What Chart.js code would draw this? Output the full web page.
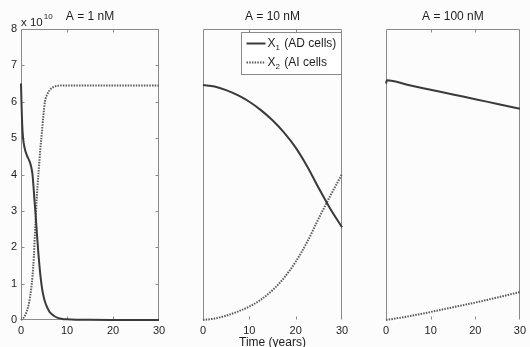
<!DOCTYPE html>
<html>
<head>
<meta charset="utf-8">
<script src="https://cdn.jsdelivr.net/npm/chart.js@4/dist/chart.umd.min.js"></script>
<style>
  html, body { margin: 0; padding: 0; background: #fcfcfc; }
  #wrap { position: relative; width: 530px; height: 347px; }
  #wrap canvas { position: absolute; left: 0; top: 0; }
</style>
</head>
<body>
<div id="wrap">
  <canvas id="p1" width="530" height="347"></canvas>
  <canvas id="p2" width="530" height="347"></canvas>
  <canvas id="p3" width="530" height="347"></canvas>
</div>
<script>
// Cell populations in units of 10^10 cells, time in years.

// A = 1 nM
const tLowAD = [0, 0.1, 0.25, 0.45, 0.8, 1.3, 1.8, 2.2, 2.5, 2.7, 2.9, 3.2, 3.5, 3.8, 4.2, 4.6, 5.0, 5.5, 6.0, 6.5, 7.2, 8, 9, 10, 12, 15, 20, 30];
const adLow  = [6.5, 6.0, 5.4, 5.0, 4.72, 4.52, 4.38, 4.22, 4.0, 3.7, 3.35, 2.85, 2.3, 1.8, 1.25, 0.85, 0.6, 0.4, 0.27, 0.18, 0.11, 0.06, 0.03, 0.02, 0.01, 0.005, 0.002, 0];
const tLowAI = [0, 0.5, 1.2, 1.8, 2.2, 2.5, 2.8, 3.0, 3.2, 3.4, 3.6, 3.9, 4.2, 4.5, 4.85, 5.2, 5.7, 6.3, 7, 8, 10, 15, 20, 30];
const aiLow  = [0, 0.05, 0.22, 0.5, 0.85, 1.2, 1.75, 2.3, 2.8, 3.3, 3.7, 4.2, 4.7, 5.1, 5.6, 6.0, 6.2, 6.33, 6.4, 6.44, 6.45, 6.45, 6.45, 6.45];

// A = 10 nM
const tMid  = [0, 2.5, 5, 7.5, 10, 12.5, 15, 17.5, 20, 22.5, 25, 27.5, 30];
const adMid = [6.46, 6.42, 6.32, 6.18, 6.0, 5.77, 5.49, 5.15, 4.74, 4.22, 3.62, 3.05, 2.55];
const aiMid = [0.0, 0.04, 0.12, 0.23, 0.37, 0.56, 0.82, 1.16, 1.6, 2.15, 2.8, 3.42, 4.01];

// A = 100 nM
const tHighAD = [0, 0.2, 5, 10, 15, 20, 25, 30];
const adHigh  = [6.5, 6.59, 6.46, 6.33, 6.2, 6.07, 5.94, 5.81];
const tHighAI = [0, 5, 10, 15, 20, 25, 30];
const aiHigh  = [0.0, 0.1, 0.22, 0.35, 0.48, 0.62, 0.77];

const xTicks = [0, 10, 20, 30];
const yTicks = [0, 1, 2, 3, 4, 5, 6, 7, 8];
const panelTitles = ['A = 1 nM', 'A = 10 nM', 'A = 100 nM'];
const seriesLabels = ['X\u2081 (AD cells)', 'X\u2082 (AI cells'];
const xAxisTitle = 'Time (years)';

const FONT = '"Liberation Sans", Arial, Helvetica, sans-serif';
const INK = '#1e1e1e';
const FRAME = '#8a8a8a';
const PLOT_TOP = 29, PLOT_BOTTOM = 320, CANVAS_W = 530, CANVAS_H = 347;

function points(ts, vs) {
  return ts.map((t, i) => ({ x: t, y: vs[i] }));
}
function adSeries(ts, vs) {
  return {
    label: seriesLabels[0], data: points(ts, vs),
    borderColor: '#3a3a3a', borderWidth: 2, pointRadius: 0,
    cubicInterpolationMode: 'monotone', borderJoinStyle: 'round', clip: 4
  };
}
function aiSeries(ts, vs) {
  return {
    label: seriesLabels[1], data: points(ts, vs),
    borderColor: '#5a5a5a', borderWidth: 2, borderDash: [1.5, 1.2], pointRadius: 0,
    cubicInterpolationMode: 'monotone', clip: 4
  };
}

// draw "X" with a subscript digit followed by the rest of the label
function drawSubLabel(ctx, label, x, y) {
  const subs = { '\u2081': '1', '\u2082': '2' };
  let cx = x;
  ctx.textBaseline = 'middle';
  ctx.textAlign = 'left';
  for (const ch of label) {
    if (subs[ch]) {
      ctx.font = '8px ' + FONT;
      ctx.fillText(subs[ch], cx, y + 4);
      cx += ctx.measureText(subs[ch]).width + 1;
    } else {
      ctx.font = '12px ' + FONT;
      ctx.fillText(ch, cx, y);
      cx += ctx.measureText(ch).width;
    }
  }
}

const frame = {
  id: 'frame',
  beforeDatasetsDraw(chart, args, o) {
    const { ctx, chartArea: a } = chart;
    const xs = chart.scales.x, ys = chart.scales.y;
    const L = Math.round(a.left) + 0.5, R = Math.round(a.right) - 0.5;
    const T = Math.round(a.top) + 0.5, B = Math.round(a.bottom) - 0.5;
    ctx.save();
    ctx.strokeStyle = FRAME;
    ctx.lineWidth = 1;
    ctx.beginPath();
    ctx.moveTo(L, B); ctx.lineTo(L, T); ctx.lineTo(R, T); ctx.lineTo(R, B);
    if (o.bottom) ctx.lineTo(L, B);
    ctx.stroke();
    ctx.beginPath();
    xTicks.slice(1, -1).forEach(v => {
      const px = Math.round(xs.getPixelForValue(v)) + 0.5;
      ctx.moveTo(px, T); ctx.lineTo(px, T + 3);
      ctx.moveTo(px, B); ctx.lineTo(px, B - 3);
    });
    if (o.yMarks) {
      yTicks.slice(1, -1).forEach(v => {
        const py = Math.round(ys.getPixelForValue(v)) + 0.5;
        ctx.moveTo(L, py); ctx.lineTo(L + 3, py);
        ctx.moveTo(R, py); ctx.lineTo(R - 3, py);
      });
    }
    ctx.stroke();
    ctx.restore();
  },
  afterDraw(chart, args, o) {
    const { ctx, chartArea: a } = chart;
    const cx = (a.left + a.right) / 2;
    ctx.save();
    ctx.fillStyle = INK;
    ctx.font = '12px ' + FONT;
    ctx.textAlign = 'center';
    ctx.textBaseline = 'middle';
    ctx.fillText(o.title, cx, a.top - 12);

    if (o.multiplier) {
      ctx.textAlign = 'left';
      ctx.font = '11.5px ' + FONT;
      const base = 'x 10';
      ctx.fillText(base, a.left, a.top - 6);
      const w = ctx.measureText(base).width;
      ctx.font = '8px ' + FONT;
      ctx.fillText('10', a.left + w + 1, a.top - 12);
    }

    if (o.xTitle) {
      ctx.textAlign = 'center';
      ctx.font = '12px ' + FONT;
      ctx.fillText(xAxisTitle, cx, a.bottom + 23);
    }

    if (o.legend) {
      const bw = 100, bh = 42;
      const bx = Math.round(a.right) - 101 + 0.5, by = Math.round(a.top) + 3 + 0.5;
      ctx.fillStyle = '#ffffff';
      ctx.fillRect(bx, by, bw, bh);
      ctx.strokeStyle = FRAME;
      ctx.lineWidth = 1;
      ctx.strokeRect(bx, by, bw, bh);
      chart.data.datasets.forEach((ds, i) => {
        const ry = by + 11 + i * 19;
        ctx.save();
        ctx.strokeStyle = ds.borderColor;
        ctx.lineWidth = ds.borderWidth;
        ctx.setLineDash(ds.borderDash || []);
        ctx.beginPath();
        ctx.moveTo(bx + 5, ry); ctx.lineTo(bx + 24, ry);
        ctx.stroke();
        ctx.restore();
        ctx.fillStyle = INK;
        drawSubLabel(ctx, ds.label, bx + 26, ry);
      });
    }
    ctx.restore();
  }
};

// left/right: horizontal extent of the plot area in canvas pixels
function makePanel(id, datasets, left, right, deco) {
  return new Chart(document.getElementById(id), {
    type: 'line',
    data: { datasets },
    options: {
      responsive: false,
      animation: false,
      events: [],
      layout: { padding: { left: 0, right: CANVAS_W - right, top: PLOT_TOP, bottom: 0 } },
      scales: {
        x: {
          type: 'linear', min: 0, max: 30,
          afterFit: s => { s.height = CANVAS_H - PLOT_BOTTOM; },
          afterBuildTicks: s => { s.ticks = xTicks.map(v => ({ value: v })); },
          grid: { display: false, drawTicks: false },
          border: { display: false },
          ticks: { padding: 4, color: INK, maxRotation: 0, autoSkip: false,
                   font: { family: FONT, size: 11 } }
        },
        y: {
          type: 'linear', min: 0, max: 8,
          afterFit: s => { s.width = left; },
          afterBuildTicks: s => { s.ticks = yTicks.map(v => ({ value: v })); },
          grid: { display: false, drawTicks: false },
          border: { display: false },
          ticks: { display: !!deco.yLabels, padding: 4, color: INK,
                   font: { family: FONT, size: 11 } }
        }
      },
      plugins: {
        legend: { display: false },
        tooltip: { enabled: false },
        frame: deco
      }
    },
    plugins: [frame]
  });
}

makePanel('p1', [adSeries(tLowAD, adLow), aiSeries(tLowAI, aiLow)], 21, 159,
  { title: panelTitles[0], bottom: true, yMarks: true, yLabels: true, multiplier: true });
makePanel('p2', [adSeries(tMid, adMid), aiSeries(tMid, aiMid)], 203, 342,
  { title: panelTitles[1], bottom: false, yMarks: false, legend: true, xTitle: true });
makePanel('p3', [adSeries(tHighAD, adHigh), aiSeries(tHighAI, aiHigh)], 386, 523,
  { title: panelTitles[2], bottom: false, yMarks: false });
</script>
</body>
</html>
